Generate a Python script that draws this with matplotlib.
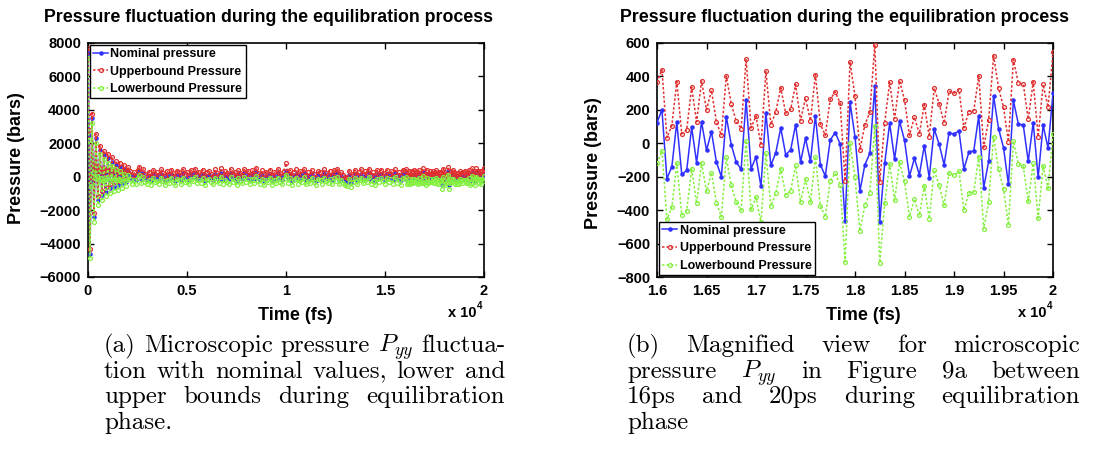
import numpy as np
import matplotlib
matplotlib.use('Agg')
import matplotlib.pyplot as plt

# ---- data (bars) ----
# start of the run: 0 .. 2000 fs, every 50 fs
t_early = np.arange(0, 2001, 50)
nom_early = [7400, 2500, -4600, -300, 3500, 500, -2400, 200, 2300, 300,
             -1400, 100, 1600, 200, -1100, 0, 1300, 100, -900, 200,
             1100, 100, -700, 200, 900, 100, -600, 150, 700, 50,
             -500, 100, 600, 0, -400, 150, 450, 0, -300, 100, 350]
up_early = [7700, 2800, -4350, 0, 3780, 780, -2150, 480, 2560, 580,
            -1130, 380, 1850, 470, -830, 270, 1560, 380, -640, 470,
            1360, 360, -440, 470, 1150, 360, -340, 420, 950, 310,
            -240, 370, 850, 260, -140, 410, 700, 260, -50, 360, 600]
lo_early = [7100, 2200, -4850, -580, 3230, 220, -2680, -80, 2040, 20,
            -1670, -170, 1340, -70, -1370, -270, 1040, -170, -1170, -70,
            840, -170, -970, -70, 640, -170, -870, -120, 440, -220,
            -770, -170, 340, -270, -670, -120, 190, -270, -570, -170, 90]

# middle of the run: 2100 .. 15900 fs (dense band, estimated every 100 fs)
t_mid = np.arange(2100, 15901, 100)
nom_mid = [120, -160, 40, -210, 180, 350, -130, 210, -60, -190,
           60, -240, 150, -80, 20, -170, 190, -30, -220, 80,
           -120, 170, -50, -250, 110, 30, -180, 200, -90, 10,
           -200, 140, -20, 230, -150, 60, -100, 170, -240, 40,
           120, -70, -210, 190, 0, -130, 250, -180, 70, -40,
           -160, 210, -90, 30, -230, 160, -10, -140, 220, -60,
           90, -200, 140, -110, 280, -30, -170, 130, -250, 50,
           -80, 180, -220, 60, -140, 200, -40, -190, 120, 330,
           -100, 150, -230, 40, 190, -160, 80, -60, 230, -210,
           20, -130, 170, -70, -240, 110, 50, -180, 200, -20,
           -150, 90, -210, 160, -30, 240, -190, 60, -120, -260,
           -330, 100, -360, -80, 150, -200, 40, 190, -140, 70,
           -50, 210, -170, 20, -230, 130, -90, 180, -10, -200,
           150, -60, 90, -180, 220, -120, 30, -220, 160]
up_mid = [370, 80, 290, 40, 430, 610, 120, 460, 190, 50,
          310, 10, 400, 170, 270, 80, 440, 220, 30, 330,
          130, 420, 200, 0, 360, 280, 70, 450, 160, 260,
          50, 390, 230, 480, 100, 310, 150, 420, 10, 290,
          370, 180, 40, 440, 250, 120, 500, 70, 320, 210,
          90, 460, 160, 280, 20, 410, 240, 110, 470, 190,
          340, 50, 390, 140, 530, 220, 80, 380, 0, 300,
          170, 430, 30, 310, 110, 450, 210, 60, 370, 800,
          150, 400, 20, 290, 440, 90, 330, 190, 480, 40,
          270, 120, 420, 180, 10, 360, 300, 70, 450, 230,
          100, 340, 40, 410, 220, 490, 60, 310, 130, -10,
          -80, 350, -110, 170, 400, 50, 290, 440, 110, 320,
          200, 460, 80, 270, 20, 380, 160, 430, 240, 50,
          400, 190, 340, 70, 470, 130, 280, 30, 410]
lo_mid = [-130, -410, -210, -460, -70, 100, -380, -40, -310, -440,
          -190, -490, -100, -330, -230, -420, -60, -280, -470, -170,
          -370, -80, -300, -500, -140, -220, -430, -50, -340, -240,
          -450, -110, -270, -20, -400, -190, -350, -80, -490, -210,
          -130, -320, -460, -60, -250, -380, 0, -430, -180, -290,
          -410, -40, -340, -220, -480, -90, -260, -390, -30, -310,
          -160, -450, -110, -360, 30, -280, -420, -120, -500, -200,
          -330, -70, -470, -190, -390, -50, -290, -440, -130, 80,
          -350, -100, -480, -210, -60, -410, -170, -310, -20, -460,
          -230, -380, -80, -320, -490, -140, -200, -430, -50, -270,
          -400, -160, -460, -90, -280, -10, -440, -190, -370, -510,
          -580, -150, -610, -330, -100, -450, -210, -60, -390, -180,
          -300, -40, -420, -230, -480, -120, -340, -70, -260, -450,
          -100, -310, -160, -430, -30, -370, -220, -470, -90]

# end of the run: 16000 .. 20000 fs, every 50 fs (the magnified view)
t_late = np.arange(16000, 20001, 50)
nom_late = [124, 200, -212, -140, 126, -186, -162, 96, -116, 128,
            -42, 70, -112, -200, 160, -8, -112, -156, 260, -152,
            -82, -258, 184, -132, -56, 92, -68, -40, 112, -112,
            30, -108, 164, -128, -196, 20, 64, -4, -466, 246,
            38, -284, -128, -60, 344, -470, -120, 120, -96, 132,
            18, -198, -90, -188, -14, -206, 86, -6, -128, 64,
            54, 76, -154, -54, -44, 164, -266, -108, 282, 88,
            -26, -246, 256, 116, 108, -108, 124, -204, 108, -28, 300]
up_late = [364, 440, 34, 106, 368, 56, 80, 336, 128, 372,
           200, 316, 128, 48, 402, 236, 132, 88, 504, 92,
           164, -12, 430, 112, 188, 332, 180, 204, 352, 136,
           270, 136, 410, 114, 48, 264, 308, 240, -224, 488,
           280, -38, 112, 186, 590, -230, 124, 364, 148, 374,
           260, 48, 156, 56, 232, 40, 328, 238, 120, 310,
           300, 320, 92, 190, 196, 404, -24, 140, 524, 332,
           216, 10, 500, 360, 354, 144, 368, 40, 352, 216, 544]
lo_late = [-120, -46, -454, -384, -120, -428, -404, -152, -360, -120,
           -288, -176, -356, -440, -84, -252, -352, -400, 16, -396,
           -324, -472, -60, -376, -300, -152, -308, -284, -132, -352,
           -216, -352, -80, -374, -440, -224, -180, -248, -710, 0,
           -204, -524, -372, -300, 104, -714, -360, -124, -340, -114,
           -228, -440, -334, -432, -256, -452, -160, -252, -370, -178,
           -192, -168, -400, -296, -292, -80, -510, -350, 40, -156,
           -272, -490, 12, -124, -136, -348, -120, -448, -136, -270, 56]

labels = ['Nominal pressure', 'Upperbound Pressure', 'Lowerbound Pressure']
title = 'Pressure fluctuation during the equilibration process'

xt1 = [0, 5000, 10000, 15000, 20000]
xt1_labels = ['0', '0.5', '1', '1.5', '2']
yt1 = [-6000, -4000, -2000, 0, 2000, 4000, 6000, 8000]
xt2 = [16000, 16500, 17000, 17500, 18000, 18500, 19000, 19500, 20000]
xt2_labels = ['1.6', '1.65', '1.7', '1.75', '1.8', '1.85', '1.9', '1.95', '2']
yt2 = [-800, -600, -400, -200, 0, 200, 400, 600]

caption_a = ['(a) Microscopic pressure $P_{yy}$ fluctua-',
             'tion with nominal values, lower and',
             'upper bounds during equilibration',
             'phase.']
caption_b = ['(b) Magnified view for microscopic',
             'pressure $P_{yy}$ in Figure 9a between',
             '16ps and 20ps during equilibration',
             'phase']

# ---- figure ----
plt.rcParams['font.family'] = ['Liberation Sans', 'DejaVu Sans']
plt.rcParams['font.weight'] = 'bold'
plt.rcParams['mathtext.fontset'] = 'cm'

W, H = 1100, 467
fig = plt.figure(figsize=(W / 100, H / 100), dpi=100)


def box(l, t, r, b):
    return [l / W, 1 - b / H, (r - l) / W, (b - t) / H]


def fx(x):
    return x / W


def fy(y):
    return 1 - y / H


nom_kw = dict(color='#3030ff', ls='-', lw=1.1, marker='.', ms=4.5, zorder=3)
up_kw = dict(color='#e03030', ls=(0, (1.6, 1.3)), lw=1.1, marker='o', ms=2.8,
             mfc='none', mew=0.9, zorder=3)
lo_kw = dict(color='#84f040', ls=(0, (1.6, 1.3)), lw=1.1, marker='o', ms=2.8,
             mfc='none', mew=0.9, zorder=3)

ax1 = fig.add_axes(box(88, 43, 484, 277))
ax2 = fig.add_axes(box(657, 43, 1053, 277))

t_all = np.concatenate([t_early, t_mid, t_late])
ax1.plot(t_all, nom_early + nom_mid + nom_late, label=labels[0], **nom_kw)
ax1.plot(t_all, up_early + up_mid + up_late, label=labels[1], **up_kw)
ax1.plot(t_all, lo_early + lo_mid + lo_late, label=labels[2], **lo_kw)
ax1.set_xlim(0, 20000)
ax1.set_ylim(-6000, 8000)
ax1.set_xticks(xt1, xt1_labels)
ax1.set_yticks(yt1)

ax2.plot(t_late, nom_late, label=labels[0], **nom_kw)
ax2.plot(t_late, up_late, label=labels[1], **up_kw)
ax2.plot(t_late, lo_late, label=labels[2], **lo_kw)
ax2.set_xlim(16000, 20000)
ax2.set_ylim(-800, 600)
ax2.set_xticks(xt2, xt2_labels)
ax2.set_yticks(yt2)

leg_kw = dict(fontsize=9, fancybox=False, edgecolor='black', framealpha=1,
              borderaxespad=0.15, handlelength=1.2, handletextpad=0.2,
              borderpad=0.25, labelspacing=0.45)
for ax, loc in ((ax1, 'upper left'), (ax2, 'lower left')):
    ax.tick_params(direction='in', length=4, width=1, top=True, right=True,
                   labelsize=10.5, pad=5)
    for s in ax.spines.values():
        s.set_linewidth(1.2)
    leg = ax.legend(loc=loc, **leg_kw)
    leg.get_frame().set_linewidth(1.0)
    leg.set_zorder(5)

# titles, axis labels, x 10^4
fig.text(fx(269), fy(17), title, ha='center', va='center', fontsize=12.8)
fig.text(fx(845), fy(17), title, ha='center', va='center', fontsize=12.8)
fig.text(fx(17), fy(158), 'Pressure (bars)', rotation=90, ha='center',
         va='center', fontsize=13)
fig.text(fx(594), fy(163), 'Pressure (bars)', rotation=90, ha='center',
         va='center', fontsize=13)
fig.text(fx(295), fy(316), 'Time (fs)', ha='center', va='center', fontsize=13)
fig.text(fx(863), fy(316), 'Time (fs)', ha='center', va='center', fontsize=13)
for x0 in (448, 1018):
    fig.text(fx(x0), fy(313), 'x 10', ha='left', va='center', fontsize=10.5)
    fig.text(fx(x0 + 29), fy(306), '4', ha='left', va='center', fontsize=7)

# justified captions
renderer = fig.canvas.get_renderer()


def caption(lines, x0, x1, y0, dy, size=18):
    for k, line in enumerate(lines):
        words = line.split(' ')
        texts = [fig.text(0, fy(y0 + k * dy), w, family='cmr10',
                          fontweight='normal', fontsize=size, ha='left',
                          va='baseline') for w in words]
        widths = [t.get_window_extent(renderer).width for t in texts]
        if k < len(lines) - 1 and len(words) > 1:
            gap = (x1 - x0 - sum(widths)) / (len(words) - 1)
        else:
            gap = 6
        x = x0
        for t, w in zip(texts, widths):
            t.set_x(fx(x))
            x += w + gap


caption(caption_a, 104, 505, 352, 25.7)
caption(caption_b, 627, 1080, 352, 25.7)

fig.savefig('out.png', dpi=100)
